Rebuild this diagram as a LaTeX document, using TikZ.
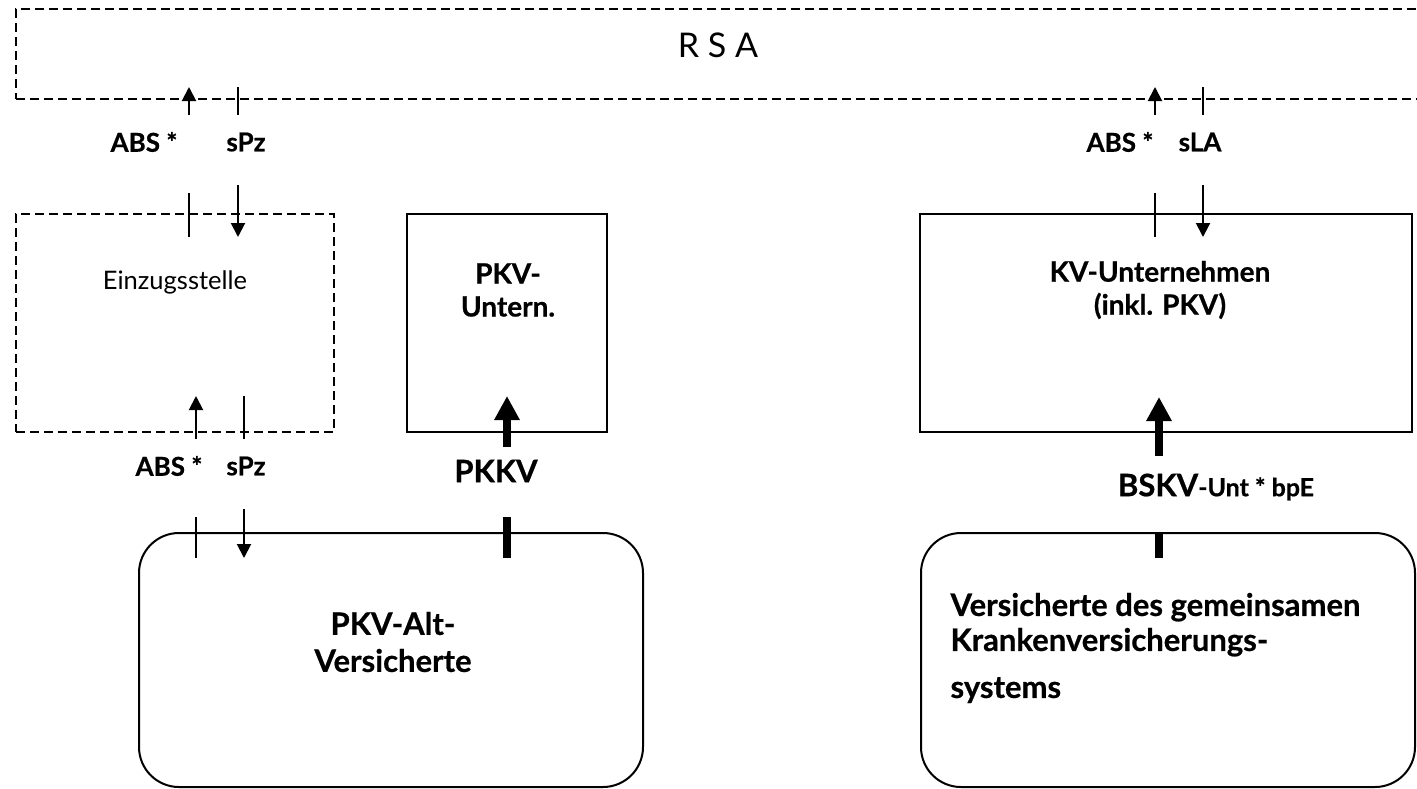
\documentclass[tikz,border=0pt]{standalone}
\usepackage{fontspec}
\setmainfont{Lato}[BoldFeatures={FakeBold=0.6}]
\usetikzlibrary{arrows.meta}

\tikzset{
  box/.style={draw=black, line width=2pt, inner sep=0pt},
  dashbox/.style={box, dash pattern=on 9pt off 5pt},
  roundbox/.style={box, rounded corners=40pt},
  boxtext/.style={font=\bfseries\fontsize{28}{33}\selectfont, align=center},
  lbl/.style={font=\bfseries\fontsize{26}{30}\selectfont},
  thinarr/.style={line width=2pt, -{Triangle[width=14pt,length=14pt]}},
  tick/.style={line width=2pt},
  thickarr/.style={line width=8pt, -{Triangle[width=24pt,length=24pt]}},
  thicktick/.style={line width=8pt}
}

\begin{document}
\begin{tikzpicture}[x=1pt,y=-1pt]
\useasboundingbox (0,0) rectangle (1417,788);

% boxes
\node[dashbox, minimum width=1404pt, minimum height=90pt] (rsa) at (718,54) {};
\node[font=\fontsize{34}{40}\selectfont] (rsatext) at (718,45) {R S A};
\node[dashbox, minimum width=318pt, minimum height=218pt] (ezs) at (175,323) {};
\node[font=\fontsize{25.5}{30}\selectfont] (ezstext) at (175,282) {Einzugsstelle};
\node[box, minimum width=200pt, minimum height=218pt] (pkvu) at (507,323) {};
\node[boxtext] (pkvutext) at (508,290) {PKV-\\Untern.};
\node[box, minimum width=492pt, minimum height=218pt] (kvu) at (1166,323) {};
\node[boxtext] (kvutext) at (1160,290) {KV-Unternehmen\\(inkl. PKV)};
\node[roundbox, minimum width=504pt, minimum height=254pt] (alt) at (391,660) {};
\node[boxtext, font=\bfseries\fontsize{31}{37}\selectfont] (alttext) at (393,642) {PKV-Alt-\\Versicherte};
\node[roundbox, minimum width=494pt, minimum height=254pt] (vers) at (1168,660) {};
\node[boxtext, align=left, anchor=west, font=\bfseries\fontsize{31}{35}\selectfont] (verstext) at (947,648)
  {Versicherte des gemeinsamen\\Krankenversicherungs-\\[12pt]systems};

% labels
\node[lbl] (abs1) at (144,142) {ABS *};
\node[lbl] (spz1) at (246,142) {sPz};
\node[lbl] (abs2) at (169,466) {ABS *};
\node[lbl] (spz2) at (246,466) {sPz};
\node[lbl, font=\bfseries\fontsize{31}{36}\selectfont] (pkkv) at (496,471) {PKKV};
\node[lbl] (abs3) at (1120,142) {ABS *};
\node[lbl] (sla) at (1200,142) {sLA};
\node[lbl, font=\bfseries\fontsize{25}{30}\selectfont] (bskv) at (1216,487) {{\fontsize{31}{36}\selectfont BSKV}-Unt * bpE};

% stub ends
\coordinate (a1) at (189,115); \coordinate (a1e) at (189,87);
\coordinate (b1) at (238,87);  \coordinate (b1e) at (238,115);
\coordinate (a2) at (189,193); \coordinate (a2e) at (189,237);
\coordinate (b2) at (238,185); \coordinate (b2e) at (238,237);
\coordinate (a3) at (196,439); \coordinate (a3e) at (196,396);
\coordinate (b3) at (244,396); \coordinate (b3e) at (244,439);
\coordinate (a4) at (196,517); \coordinate (a4e) at (196,558);
\coordinate (b4) at (244,509); \coordinate (b4e) at (244,558);
\coordinate (p1) at (507,447); \coordinate (p1e) at (507,396);
\coordinate (p2) at (507,517); \coordinate (p2e) at (507,558);
\coordinate (c1) at (1155,115); \coordinate (c1e) at (1155,87);
\coordinate (d1) at (1203,87);  \coordinate (d1e) at (1203,115);
\coordinate (c2) at (1155,193); \coordinate (c2e) at (1155,237);
\coordinate (d2) at (1203,185); \coordinate (d2e) at (1203,237);
\coordinate (k1) at (1159,456); \coordinate (k1e) at (1159,397);
\coordinate (k2) at (1159,533); \coordinate (k2e) at (1159,558);

% flows
\draw[thinarr] (a1) -- (a1e);
\draw[tick] (b1) -- (b1e);
\draw[tick] (a2) -- (a2e);
\draw[thinarr] (b2) -- (b2e);
\draw[thinarr] (a3) -- (a3e);
\draw[tick] (b3) -- (b3e);
\draw[tick] (a4) -- (a4e);
\draw[thinarr] (b4) -- (b4e);
\draw[thickarr] (p1) -- (p1e);
\draw[thicktick] (p2) -- (p2e);
\draw[thinarr] (c1) -- (c1e);
\draw[tick] (d1) -- (d1e);
\draw[tick] (c2) -- (c2e);
\draw[thinarr] (d2) -- (d2e);
\draw[thickarr] (k1) -- (k1e);
\draw[thicktick] (k2) -- (k2e);
\end{tikzpicture}
\end{document}
